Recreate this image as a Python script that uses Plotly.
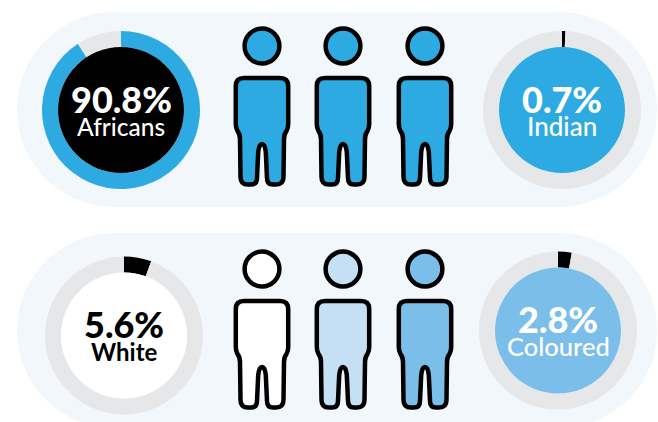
import plotly.graph_objects as go

W, H = 658, 422

# Population groups and their shares (percent)
groups = ["Africans", "Indian", "White", "Coloured"]
shares = [90.8, 0.7, 5.6, 2.8]
share_labels = ["90.8%", "0.7%", "5.6%", "2.8%"]

BLUE = "#2daae1"
SKY = "#7abee9"
PALE = "#c5dff4"
GREY = "#e6e7e8"
PANEL = "#f2f7fc"
BLACK = "#000000"
WHITE = "#ffffff"

# Ring layout: centre x, centre y, slice colour, remainder colour, disc colour, text colour,
# group label size and weight
rings = [
    (121, 110, BLUE, GREY, BLACK, WHITE, 24.5, 500),
    (562, 110, BLACK, GREY, BLUE, WHITE, 26, 500),
    (124, 335.5, BLACK, GREY, WHITE, BLACK, 24, 700),
    (558, 330.5, BLACK, GREY, SKY, WHITE, 25.5, 500),
]
R_OUT = 79
R_IN = 63
KAPPA = 0.5523

fig = go.Figure()
# Empty trace so the fixed pixel-scale axes exist for the shapes
fig.add_trace(go.Scatter(x=[], y=[], showlegend=False))


def pill(y0, y1, x0=17, x1=657):
    r = (y1 - y0) / 2
    k = r * KAPPA
    xl, xr = x0 + r, x1 - r
    ym = (y0 + y1) / 2
    return dict(
        type="path", layer="below", fillcolor=PANEL, line_width=0,
        path=(f"M {xl},{y0} L {xr},{y0} "
              f"C {xr + k},{y0} {x1},{ym - k} {x1},{ym} "
              f"C {x1},{ym + k} {xr + k},{y1} {xr},{y1} "
              f"L {xl},{y1} "
              f"C {xl - k},{y1} {x0},{ym + k} {x0},{ym} "
              f"C {x0},{ym - k} {xl - k},{y0} {xl},{y0} Z"),
    )


def person(cx, top, fill):
    """Head circle plus body outline; top is the upper edge of the head."""
    sw = 4.5
    hy = top + 19.5
    head = dict(type="circle", x0=cx - 17.4, x1=cx + 17.4, y0=hy - 17.4, y1=hy + 17.4,
                fillcolor=fill, line=dict(color=BLACK, width=sw))
    b = top + 49.5  # body origin
    p = (
        f"M {cx - 18},{b + 2} L {cx + 18},{b + 2} "
        f"Q {cx + 26.2},{b + 2} {cx + 26.2},{b + 10} "
        f"L {cx + 26.2},{b + 48} Q {cx + 26.2},{b + 52} {cx + 24.5},{b + 55} "
        f"Q {cx + 22},{b + 58} {cx + 22},{b + 63} "
        f"L {cx + 21.5},{b + 101} Q {cx + 21.5},{b + 108.5} {cx + 14},{b + 108.5} "
        f"L {cx + 11},{b + 108.5} Q {cx + 5},{b + 108.5} {cx + 5},{b + 102} "
        f"L {cx + 3.8},{b + 76} Q {cx + 3},{b + 68} {cx},{b + 68} "
        f"Q {cx - 3},{b + 68} {cx - 3.8},{b + 76} "
        f"L {cx - 5},{b + 102} Q {cx - 5},{b + 108.5} {cx - 11},{b + 108.5} "
        f"L {cx - 14},{b + 108.5} Q {cx - 21.5},{b + 108.5} {cx - 21.5},{b + 101} "
        f"L {cx - 22},{b + 63} Q {cx - 22},{b + 58} {cx - 24.5},{b + 55} "
        f"Q {cx - 26.2},{b + 52} {cx - 26.2},{b + 48} "
        f"L {cx - 26.2},{b + 10} Q {cx - 26.2},{b + 2} {cx - 18},{b + 2} Z"
    )
    body = dict(type="path", path=p, fillcolor=fill, line=dict(color=BLACK, width=sw))
    return [head, body]


shapes = [pill(12, 207), pill(233, 428)]

person_x = [262, 343, 425]
for cx in person_x:
    shapes += person(cx, 26.5, BLUE)
for cx, fill in zip(person_x, [WHITE, PALE, SKY]):
    shapes += person(cx, 249.5, fill)

annotations = []
for group, share, label, (cx, cy, c_share, c_rest, c_disc, c_text, g_size, g_weight) in zip(
    groups, shares, share_labels, rings
):
    fig.add_trace(go.Pie(
        values=[share, 100 - share],
        labels=[group, "Rest"],
        sort=False, direction="clockwise", rotation=0,
        hole=R_IN / R_OUT,
        marker=dict(colors=[c_share, c_rest], line=dict(width=0)),
        textinfo="none", showlegend=False, hoverinfo="label+value",
        domain=dict(x=[(cx - R_OUT) / W, (cx + R_OUT) / W],
                    y=[1 - (cy + R_OUT) / H, 1 - (cy - R_OUT) / H]),
    ))
    shapes.append(dict(type="circle", x0=cx - R_IN, x1=cx + R_IN, y0=cy - R_IN, y1=cy + R_IN,
                       fillcolor=c_disc, line_width=0, layer="above"))
    annotations.append(dict(x=cx, y=cy - 11.5, text=label, showarrow=False, height=30,
                            font=dict(family="Lato", size=36, color=c_text, weight=900)))
    annotations.append(dict(x=cx, y=cy + 15.5, text=group, showarrow=False, height=22,
                            font=dict(family="Lato", size=g_size, color=c_text,
                                      weight=g_weight)))

fig.update_layout(
    width=W, height=H, margin=dict(l=0, r=0, t=0, b=0),
    paper_bgcolor=WHITE, plot_bgcolor=WHITE,
    xaxis=dict(range=[0, W], visible=False, fixedrange=True),
    yaxis=dict(range=[H, 0], visible=False, fixedrange=True),
    shapes=shapes, annotations=annotations,
)

fig.write_html("out.html", config=dict(displayModeBar=False))
